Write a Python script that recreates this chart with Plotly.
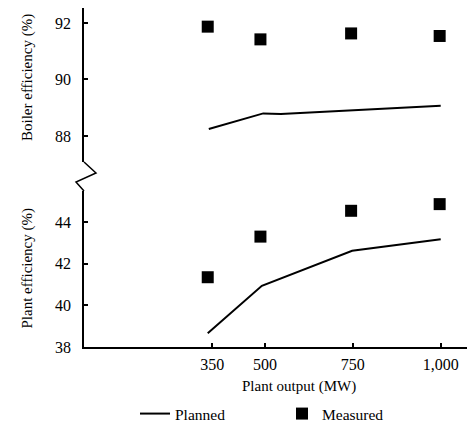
import plotly.graph_objects as go

# ---- data ----
boiler_planned_x = [340, 495, 545, 1000]
boiler_planned_y = [88.25, 88.80, 88.78, 89.07]
boiler_measured_x = [337, 487, 745, 997]
boiler_measured_y = [91.87, 91.42, 91.63, 91.54]

plant_planned_x = [337, 491, 748, 1000]
plant_planned_y = [38.66, 40.94, 42.62, 43.17]
plant_measured_x = [337, 487, 745, 997]
plant_measured_y = [41.35, 43.30, 44.54, 44.86]

x_tickvals = [350, 500, 750, 1000]
x_ticktext = ["350", "500", "750", "1,000"]
boiler_ticks = [88, 90, 92]
plant_ticks = [38, 40, 42, 44]

FONT = "'Liberation Serif', 'Times New Roman', Times, serif"
W, H = 467, 423
L, B, T = 84, 76, 8
PW, PH = W - L, H - B - T


def px_x(px):
    return (px - L) / PW


def px_y(py):
    return (H - B - py) / PH


fig = go.Figure()
fig.add_trace(go.Scatter(x=boiler_planned_x, y=boiler_planned_y, yaxis="y2", mode="lines",
                         line=dict(color="black", width=2), name="Planned", legendgroup="p"))
fig.add_trace(go.Scatter(x=boiler_measured_x, y=boiler_measured_y, yaxis="y2", mode="markers",
                         marker=dict(symbol="square", size=12, color="black"), name="Measured",
                         legendgroup="m"))
fig.add_trace(go.Scatter(x=plant_planned_x, y=plant_planned_y, yaxis="y", mode="lines",
                         line=dict(color="black", width=2), name="Planned", legendgroup="p",
                         showlegend=False))
fig.add_trace(go.Scatter(x=plant_measured_x, y=plant_measured_y, yaxis="y", mode="markers",
                         marker=dict(symbol="square", size=12, color="black"), name="Measured",
                         legendgroup="m", showlegend=False))

axis_common = dict(showline=True, linecolor="black", linewidth=1.5, ticks="inside", ticklen=4,
                   tickcolor="black", tickwidth=1.5, showgrid=False, zeroline=False,
                   tickfont=dict(family=FONT, size=16, color="black"))

top_lo, top_hi = px_y(162), 1.0
bot_lo, bot_hi = 0.0, px_y(191)

fig.update_layout(
    width=W, height=H,
    margin=dict(l=L, r=0, t=T, b=B, autoexpand=False),
    paper_bgcolor="white", plot_bgcolor="white",
    font=dict(family=FONT, size=15, color="black"),
    xaxis=dict(range=[-15.1, 1074.8], tickvals=x_tickvals, ticktext=x_ticktext,
               ticklabelstandoff=2, **axis_common),
    yaxis=dict(domain=[bot_lo, bot_hi], range=[38, 45.49], tickvals=plant_ticks,
               ticklabelstandoff=8, **axis_common),
    yaxis2=dict(domain=[top_lo, top_hi], range=[87.08, 92.53], tickvals=boiler_ticks,
                ticklabelstandoff=8, anchor="x", **axis_common),
    showlegend=True,
    legend=dict(orientation="h", x=px_x(135), xanchor="left", y=px_y(414), yanchor="middle",
                font=dict(family=FONT, size=15.5, color="black"),
                entrywidth=102, entrywidthmode="pixels", bgcolor="rgba(0,0,0,0)"),
    annotations=[
        dict(text="Boiler efficiency (%)", xref="paper", yref="paper", x=px_x(27), y=px_y(78),
             textangle=-90, showarrow=False, xanchor="center", yanchor="middle",
             font=dict(family=FONT, size=15)),
        dict(text="Plant efficiency (%)", xref="paper", yref="paper", x=px_x(27), y=px_y(268.5),
             textangle=-90, showarrow=False, xanchor="center", yanchor="middle",
             font=dict(family=FONT, size=15)),
        dict(text="Plant output (MW)", xref="paper", yref="paper", x=px_x(298.5), y=px_y(386),
             showarrow=False, xanchor="center", yanchor="middle",
             font=dict(family=FONT, size=15)),
    ],
    shapes=[
        dict(type="path", xref="paper", yref="paper",
             path=f"M0,{top_lo} L{px_x(96)},{px_y(173)} L{px_x(76)},{px_y(182)} L0,{bot_hi}",
             line=dict(color="black", width=1.5)),
    ],
)

fig.write_html("out.html", config={"displayModeBar": False},
               post_script="document.body.style.margin='0';document.body.style.overflow='hidden';")
